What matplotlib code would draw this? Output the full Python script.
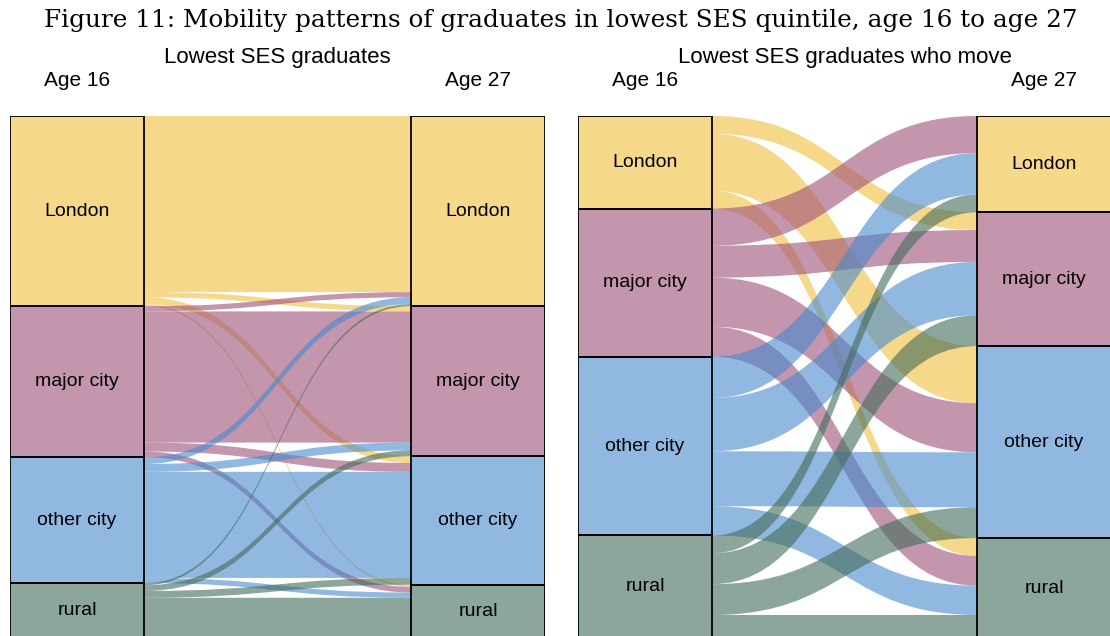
import numpy as np
import matplotlib
matplotlib.use("Agg")
import matplotlib.pyplot as plt
from matplotlib.path import Path
from matplotlib.patches import PathPatch, Rectangle

# regions, top to bottom
regions = ["London", "major city", "other city", "rural"]

# share of graduates (%), rows = region at age 16, columns = region at age 27
flows_all = [
    [33.7, 1.0, 1.3, 0.4],
    [1.0, 25.1, 1.7, 1.1],
    [1.3, 1.5, 20.3, 1.0],
    [0.4, 1.1, 1.3, 7.7],
]
flows_movers = [
    [0.0, 3.4, 10.9, 3.4],
    [7.1, 6.1, 9.4, 5.7],
    [7.9, 10.2, 10.5, 5.6],
    [3.4, 5.9, 5.9, 4.4],
]

panel_titles = ["Lowest SES graduates", "Lowest SES graduates who move"]
fig_title = "Figure 11: Mobility patterns of graduates in lowest SES quintile, age 16 to age 27"

colors = ["#F0BE3E", "#9D5078", "#488ACD", "#416B58"]
ALPHA = 0.6

W, H = 1110, 636
plt.rcParams["font.family"] = ["Liberation Sans", "DejaVu Sans"]

fig = plt.figure(figsize=(W / 100, H / 100), dpi=100)


def band(ax, x0, x1, a0, a1, b0, b1, color):
    xm = 0.5 * (x0 + x1)
    verts = [(x0, a0), (xm, a0), (xm, b0), (x1, b0),
             (x1, b1), (xm, b1), (xm, a1), (x0, a1), (x0, a0)]
    codes = [Path.MOVETO, Path.CURVE4, Path.CURVE4, Path.CURVE4,
             Path.LINETO, Path.CURVE4, Path.CURVE4, Path.CURVE4, Path.CLOSEPOLY]
    ax.add_patch(PathPatch(Path(verts, codes), facecolor=color, alpha=ALPHA,
                           edgecolor="none", lw=0))


def sankey(ax, flows, bw):
    M = np.asarray(flows, dtype=float)
    total = M.sum()
    out_tot = M.sum(axis=1)
    in_tot = M.sum(axis=0)
    out_start = np.concatenate([[0], np.cumsum(out_tot)[:-1]])
    in_start = np.concatenate([[0], np.cumsum(in_tot)[:-1]])

    # where each flow lands on the right column
    in_pos = np.zeros_like(M)
    for j in range(4):
        acc = in_start[j]
        for i in range(4):
            in_pos[i, j] = acc
            acc += M[i, j]

    # flows, drawn origin by origin
    for i in range(4):
        acc = out_start[i]
        for j in range(4):
            v = M[i, j]
            if v > 0:
                band(ax, bw, 1 - bw, acc, acc + v, in_pos[i, j], in_pos[i, j] + v,
                     colors[i])
            acc += v

    # boxes and labels
    for k in range(4):
        for x, y0, h in [(0, out_start[k], out_tot[k]), (1 - bw, in_start[k], in_tot[k])]:
            ax.add_patch(Rectangle((x, y0), bw, h, facecolor=colors[k], alpha=ALPHA,
                                   edgecolor="none"))
            ax.add_patch(Rectangle((x, y0), bw, h, facecolor="none",
                                   edgecolor="black", lw=1.3))
            ax.text(x + bw / 2, y0 + h / 2, regions[k], ha="center", va="center",
                    fontsize=14, color="black")

    ax.set_xlim(0, 1)
    ax.set_ylim(total, 0)
    ax.axis("off")


top_px = 116
height_px = 522
panels = [(10, 545, flows_all), (578, 1111, flows_movers)]
box_px = 134

for (xl, xr, flows), title in zip(panels, panel_titles):
    ax = fig.add_axes([xl / W, (H - top_px - height_px) / H, (xr - xl) / W, height_px / H])
    sankey(ax, flows, box_px / (xr - xl))
    cx = 0.5 * (xl + xr)
    fig.text(cx / W, 1 - 58 / H, title, ha="center", va="center", fontsize=16)
    fig.text((xl + box_px / 2) / W, 1 - 81 / H, "Age 16", ha="center", va="center",
             fontsize=15)
    fig.text((xr - box_px / 2) / W, 1 - 81 / H, "Age 27", ha="center", va="center",
             fontsize=15)

fig.text(0.505, 1 - 21 / H, fig_title, ha="center", va="center", fontsize=17.8,
         family=["DejaVu Serif"])

fig.savefig("out.png", dpi=100)
